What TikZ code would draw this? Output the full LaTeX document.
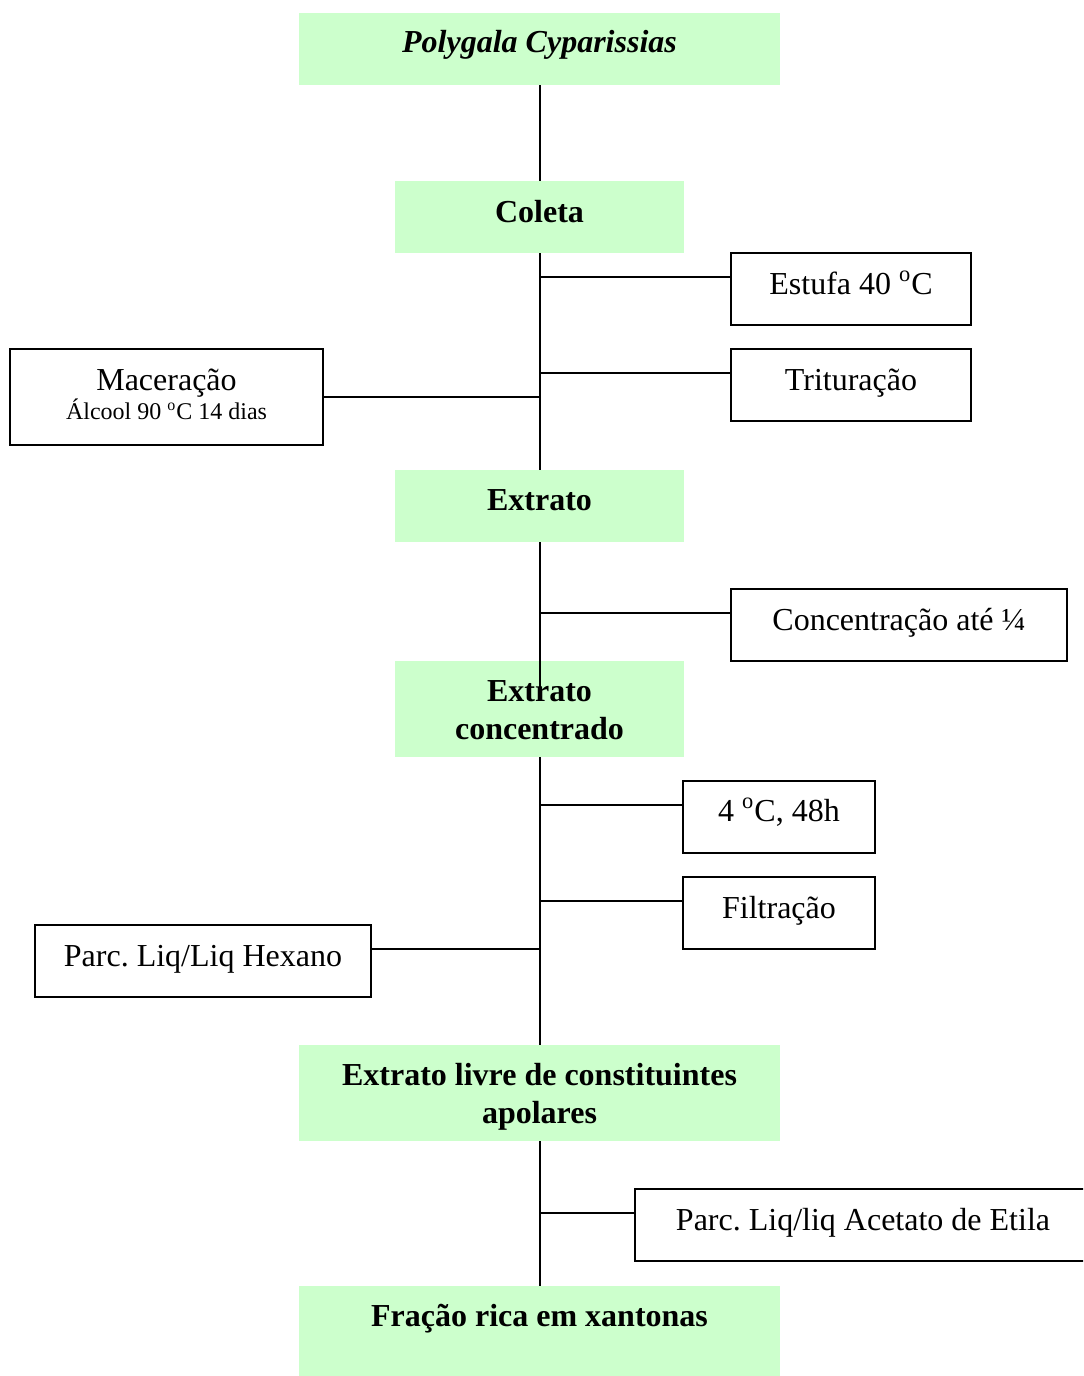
\documentclass[tikz,border=0pt]{standalone}
\usepackage{fontspec}
\setmainfont{Liberation Serif}
\frenchspacing
\definecolor{boxgreen}{HTML}{CCFFCC}
\begin{document}
\begin{tikzpicture}[x=0.5pt,y=-0.5pt,
  gbox/.style={rectangle,fill=boxgreen,draw=none,inner sep=0pt},
  wbox/.style={rectangle,fill=white,draw=black,line width=1pt,inner sep=0pt},
  big/.style={font=\fontsize{16}{19}\selectfont,align=center,anchor=base,inner sep=0pt},
  bigb/.style={big,font=\fontsize{16}{19}\selectfont\bfseries},
  small/.style={font=\fontsize{12}{14}\selectfont,anchor=base,inner sep=0pt},
  conn/.style={line width=1pt}]
\clip (0,0) rectangle (1083,1376);
\fill[white] (0,0) rectangle (1083,1376);
% green boxes
\node[gbox,minimum width=240.5pt,minimum height=36pt] (poly) at (539.5,49) {};
\node[gbox,minimum width=144.5pt,minimum height=36pt] (coleta) at (539.5,217) {};
\node[gbox,minimum width=144.5pt,minimum height=36pt] (extrato) at (539.5,506) {};
\node[gbox,minimum width=144.5pt,minimum height=48pt] (extconc) at (539.5,709) {};
\node[gbox,minimum width=240.5pt,minimum height=48pt] (livre) at (539.5,1093) {};
\node[gbox,minimum width=240.5pt,minimum height=50pt] (fracao) at (539.5,1336) {};
% white boxes
\node[wbox,minimum width=120pt,minimum height=36pt] (estufa) at (851,289) {};
\node[wbox,minimum width=120pt,minimum height=36pt] (trit) at (851,385) {};
\node[wbox,minimum width=156.5pt,minimum height=48pt] (macer) at (166.5,397) {};
\node[wbox,minimum width=168pt,minimum height=36pt] (conc) at (899,625) {};
\node[wbox,minimum width=96pt,minimum height=36pt] (fourc) at (779,817) {};
\node[wbox,minimum width=96pt,minimum height=36pt] (filt) at (779,913) {};
\node[wbox,minimum width=168pt,minimum height=36pt] (hex) at (203,961) {};
\node[wbox,minimum width=230pt,minimum height=36pt] (acet) at (865,1225) {};
% spine junctions
\coordinate (j1) at (539.5,277);
\coordinate (j2) at (539.5,373);
\coordinate (j3) at (539.5,397);
\coordinate (j4) at (539.5,613);
\coordinate (jend) at (539.5,687);
\coordinate (j5) at (539.5,805);
\coordinate (j6) at (539.5,901);
\coordinate (j7) at (539.5,949);
\coordinate (j8) at (539.5,1213);
% connectors
\draw[conn] (poly.south) -- (coleta.north);
\draw[conn] (coleta.south) -- (extrato.north);
\draw[conn] (extrato.south) -- (jend);
\draw[conn] (extconc.south) -- (livre.north);
\draw[conn] (livre.south) -- (fracao.north);
\draw[conn] (j1) -- (j1 -| estufa.west);
\draw[conn] (j2) -- (j2 -| trit.west);
\draw[conn] (j3) -- (j3 -| macer.east);
\draw[conn] (j4) -- (j4 -| conc.west);
\draw[conn] (j5) -- (j5 -| fourc.west);
\draw[conn] (j6) -- (j6 -| filt.west);
\draw[conn] (j7) -- (j7 -| hex.east);
\draw[conn] (j8) -- (j8 -| acet.west);
% texts
\node[bigb,font=\fontsize{16}{19}\selectfont\bfseries\itshape] (tpoly) at (539.5,53) {Polygala Cyparissias};
\node[bigb] (tcoleta) at (539.5,222) {Coleta};
\node[bigb] (textrato) at (539.5,510) {Extrato};
\node[bigb] (textconc) at (539.5,739) {Extrato\\concentrado};
\node[bigb] (tlivre) at (539.5,1123) {Extrato livre de constituintes\\apolares};
\node[bigb] (tfracao) at (539.5,1326) {Fração rica em xantonas};
\node[big] (testufa) at (851,294) {Estufa 40 \textsuperscript{o}C};
\node[big] (ttrit) at (851,390) {Trituração};
\node[big] (tmacer) at (166.5,390) {Maceração};
\node[small] (talcool) at (166.5,419) {Álcool 90 \textsuperscript{o}C 14 dias};
\node[big] (tconc) at (899,630) {Concentração até ¼};
\node[big] (tfourc) at (779,821) {4 \textsuperscript{o}C, 48h};
\node[big] (tfilt) at (779,918) {Filtração};
\node[big] (thex) at (203,966) {Parc. Liq/Liq Hexano};
\node[big] (tacet) at (863,1230) {Parc. Liq/liq Acetato de Etila};
\end{tikzpicture}
\end{document}
